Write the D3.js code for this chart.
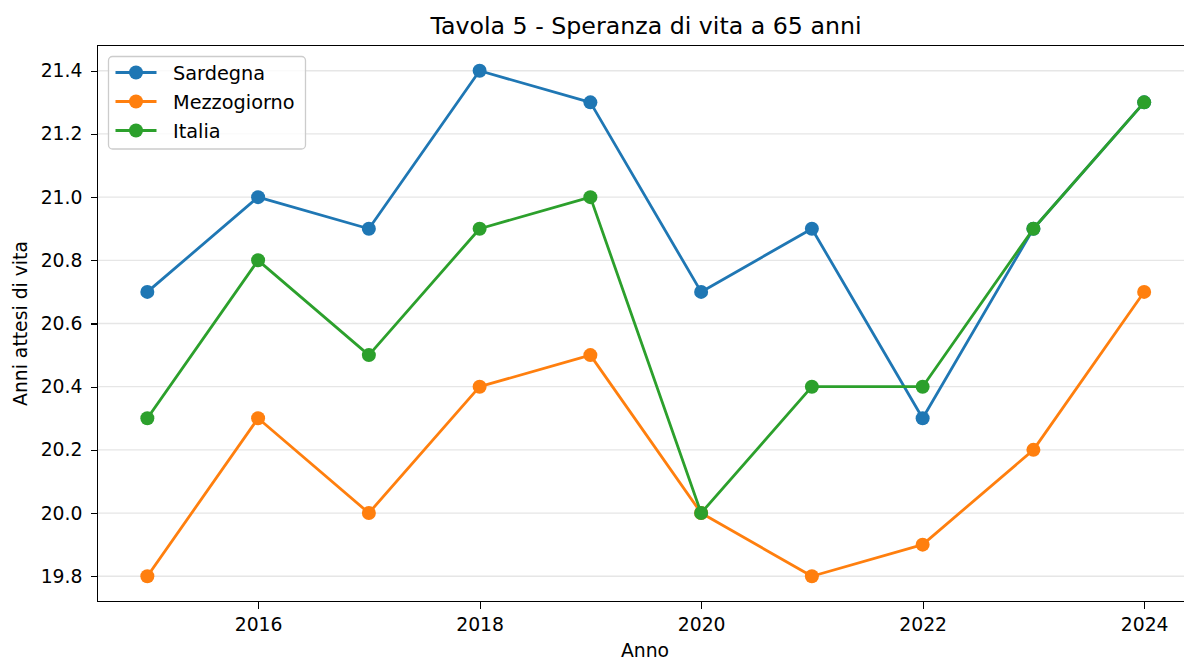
<!DOCTYPE html>
<html lang="it">
<head>
<meta charset="utf-8">
<title>Tavola 5 - Speranza di vita a 65 anni</title>
<script src="https://cdn.jsdelivr.net/npm/d3@7"></script>
<style>
  html, body { margin: 0; padding: 0; background: #fff; overflow: hidden; }
  svg { display: block; font-family: "DejaVu Sans", sans-serif; }
  .axis path, .axis line { stroke: #000; stroke-width: 1.2; shape-rendering: crispEdges; }
  .axis text { font-size: 18.8px; fill: #000; font-family: "DejaVu Sans", sans-serif; }
  .grid line { stroke: #e6e6e6; stroke-width: 1.3; }
</style>
</head>
<body>
<script>
// Data
var years = [2015, 2016, 2017, 2018, 2019, 2020, 2021, 2022, 2023, 2024];
var sardegna    = [20.7, 21.0, 20.9, 21.4, 21.3, 20.7, 20.9, 20.3, 20.9, 21.3];
var mezzogiorno = [19.8, 20.3, 20.0, 20.4, 20.5, 20.0, 19.8, 19.9, 20.2, 20.7];
var italia      = [20.3, 20.8, 20.5, 20.9, 21.0, 20.0, 20.4, 20.4, 20.9, 21.3];
var seriesNames = ["Sardegna", "Mezzogiorno", "Italia"];
var xTicks = [2016, 2018, 2020, 2022, 2024];
var yTicks = [19.8, 20.0, 20.2, 20.4, 20.6, 20.8, 21.0, 21.2, 21.4];

var colors = ["#1f77b4", "#ff7f0e", "#2ca02c"];
var allSeries = [sardegna, mezzogiorno, italia];

var width = 1184, height = 660;
// right edge of the axes lies past the window, as in the reference
var plot = {left: 97.5, right: 1194, top: 45.5, bottom: 601.5};

var svg = d3.select("body").append("svg")
    .attr("width", width)
    .attr("height", height);

// matplotlib-like 5% margins
var xPad = (d3.max(years) - d3.min(years)) * 0.05;
var allVals = sardegna.concat(mezzogiorno, italia);
var yPad = (d3.max(allVals) - d3.min(allVals)) * 0.05;

var xScale = d3.scaleLinear()
    .domain([d3.min(years) - xPad, d3.max(years) + xPad])
    .range([plot.left, plot.right]);
var yScale = d3.scaleLinear()
    .domain([d3.min(allVals) - yPad, d3.max(allVals) + yPad])
    .range([plot.bottom, plot.top]);

// horizontal grid
svg.append("g")
    .attr("class", "grid")
    .selectAll("line")
    .data(yTicks)
    .enter().append("line")
    .attr("x1", plot.left).attr("x2", plot.right)
    .attr("y1", function(d) { return yScale(d); })
    .attr("y2", function(d) { return yScale(d); });

// lines + markers
var line = d3.line()
    .x(function(d, i) { return xScale(years[i]); })
    .y(function(d) { return yScale(d); });

allSeries.forEach(function(vals, k) {
    svg.append("path")
        .datum(vals)
        .attr("d", line)
        .attr("fill", "none")
        .attr("stroke", colors[k])
        .attr("stroke-width", 2.8)
        .attr("stroke-linejoin", "round")
        .attr("stroke-linecap", "square");
    svg.append("g").selectAll("circle")
        .data(vals)
        .enter().append("circle")
        .attr("cx", function(d, i) { return xScale(years[i]); })
        .attr("cy", function(d) { return yScale(d); })
        .attr("r", 7)
        .attr("fill", colors[k]);
});

// axes
var xAxis = d3.axisBottom(xScale).tickValues(xTicks).tickSize(7).tickPadding(9.5)
    .tickFormat(d3.format("d"));
var yAxis = d3.axisLeft(yScale).tickValues(yTicks).tickSize(7).tickPadding(8)
    .tickFormat(d3.format(".1f"));

svg.append("g")
    .attr("class", "axis")
    .attr("transform", "translate(0," + plot.bottom + ")")
    .call(xAxis)
    .call(function(g) { g.select(".domain").remove(); });
svg.append("g")
    .attr("class", "axis")
    .attr("transform", "translate(" + plot.left + ",0)")
    .call(yAxis)
    .call(function(g) { g.select(".domain").remove(); });

// spines
svg.append("rect")
    .attr("x", plot.left).attr("y", plot.top)
    .attr("width", plot.right - plot.left)
    .attr("height", plot.bottom - plot.top)
    .attr("fill", "none")
    .attr("stroke", "#000").attr("stroke-width", 1.3)
    .attr("shape-rendering", "crispEdges");

// titles
svg.append("text")
    .attr("x", 646)
    .attr("y", 34)
    .attr("text-anchor", "middle")
    .style("font-size", "23.7px")
    .text("Tavola 5 - Speranza di vita a 65 anni");

svg.append("text")
    .attr("x", 645)
    .attr("y", 657)
    .attr("text-anchor", "middle")
    .style("font-size", "18.8px")
    .text("Anno");

svg.append("text")
    .attr("transform", "translate(27," + ((plot.top + plot.bottom) / 2) + ") rotate(-90)")
    .attr("text-anchor", "middle")
    .style("font-size", "18.8px")
    .text("Anni attesi di vita");

// legend
var legend = svg.append("g").attr("transform", "translate(108.5,56.5)");
legend.append("rect")
    .attr("width", 197).attr("height", 92.5)
    .attr("rx", 4)
    .attr("fill", "#fff").attr("fill-opacity", 0.8)
    .attr("stroke", "#cccccc").attr("stroke-width", 1.3);

var rows = legend.selectAll("g.row")
    .data(seriesNames)
    .enter().append("g")
    .attr("class", "row")
    .attr("transform", function(d, i) { return "translate(0," + (16 + i * 29) + ")"; });
rows.append("line")
    .attr("x1", 7).attr("x2", 48)
    .attr("stroke", function(d, i) { return colors[i]; })
    .attr("stroke-width", 2.8);
rows.append("circle")
    .attr("cx", 27.5).attr("r", 7)
    .attr("fill", function(d, i) { return colors[i]; });
rows.append("text")
    .attr("x", 64.5).attr("y", 7)
    .style("font-size", "19.3px")
    .text(function(d) { return d; });
</script>
</body>
</html>
